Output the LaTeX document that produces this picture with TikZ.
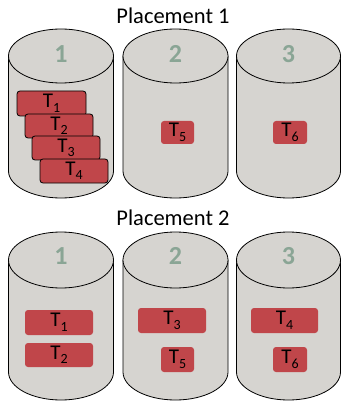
\documentclass[tikz,border=0pt]{standalone}
\usepackage{fontspec}
\setmainfont{Carlito}
\definecolor{cylfill}{HTML}{D6D4D0}
\definecolor{numcol}{HTML}{8AA595}
\definecolor{taskfill}{HTML}{C0464A}
\tikzset{
  title/.style={font=\fontsize{22.5}{24}\selectfont, inner sep=0pt},
  num/.style={font=\bfseries\fontsize{26}{28}\selectfont, text=numcol, inner sep=0pt},
  task/.style={fill=taskfill, rounded corners=3pt, inner sep=0pt, font=\fontsize{21}{22}\selectfont},
  taskline/.style={task, draw=black, line width=0.8pt},
  cyl/.style={fill=cylfill, draw=black, line width=0.8pt}
}
\newcommand{\tsub}[1]{T\raisebox{-0.45ex}{\fontsize{14}{14}\selectfont #1}}
\newcommand{\mycyl}[5]{% cx, topy, boty, rx, ry
  \path[cyl] (#1-#4,#2) -- (#1-#4,#3) arc[start angle=180,end angle=360,x radius=#4,y radius=-#5] -- (#1+#4,#2) -- cycle;
  \path[cyl] (#1,#2) ellipse[x radius=#4,y radius=#5];
}
\begin{document}
\begin{tikzpicture}[x=1pt,y=-1pt]
\useasboundingbox (0,0) rectangle (341,403);
% Placement 1
\node[title] (t1) at (173,16) {Placement 1};
\mycyl{61}{56}{171}{52.5}{27}
\mycyl{175.5}{56}{171}{52.5}{27}
\mycyl{288.5}{56}{171}{52}{27}
\node[num] (a1) at (61,54) {1};
\node[num] (a2) at (175.5,54) {2};
\node[num] (a3) at (288.5,54) {3};
\node[taskline, minimum width=69pt, minimum height=25pt] (p1t1) at (51.5,103.5) {\tsub{1}};
\node[taskline, minimum width=68pt, minimum height=24pt] (p1t2) at (59,126) {\tsub{2}};
\node[taskline, minimum width=68pt, minimum height=24pt] (p1t3) at (66,148) {\tsub{3}};
\node[taskline, minimum width=68pt, minimum height=24pt] (p1t4) at (74,171) {\tsub{4}};
\node[task, minimum width=33pt, minimum height=23pt] (p1t5) at (177.5,132.5) {\tsub{5}};
\node[task, minimum width=34pt, minimum height=23pt] (p1t6) at (290,132.5) {\tsub{6}};
% Placement 2
\node[title] (t2) at (173,218) {Placement 2};
\mycyl{61}{260}{372}{52.5}{28}
\mycyl{175.5}{260}{372}{52.5}{28}
\mycyl{288.5}{260}{372}{52}{28}
\node[num] (b1) at (61,256) {1};
\node[num] (b2) at (175.5,256) {2};
\node[num] (b3) at (288.5,256) {3};
\node[task, minimum width=68pt, minimum height=25pt] (p2t1) at (59,322.5) {\tsub{1}};
\node[task, minimum width=68pt, minimum height=24pt] (p2t2) at (59,355) {\tsub{2}};
\node[task, minimum width=68pt, minimum height=25pt] (p2t3) at (172,320.5) {\tsub{3}};
\node[task, minimum width=33pt, minimum height=25pt] (p2t5) at (177.5,359.5) {\tsub{5}};
\node[task, minimum width=67pt, minimum height=25pt] (p2t4) at (284.5,320.5) {\tsub{4}};
\node[task, minimum width=34pt, minimum height=25pt] (p2t6) at (290,359.5) {\tsub{6}};
\end{tikzpicture}
\end{document}
